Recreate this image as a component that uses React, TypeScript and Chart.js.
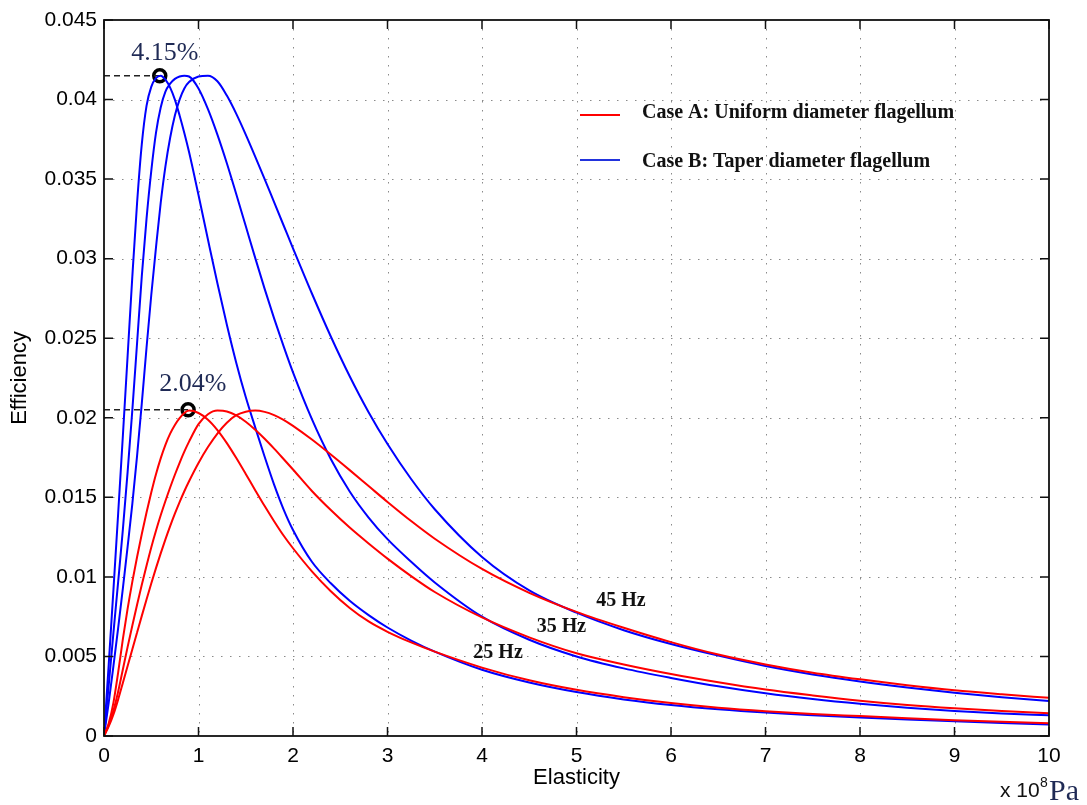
import { useEffect, useRef } from "react";
import { Chart, registerables } from "chart.js";

Chart.register(...registerables);

// Elasticity (x 10^8 Pa) sample positions shared by all curves
const elasticity = [
  0, 0.05, 0.1, 0.15, 0.2, 0.25, 0.3, 0.35, 0.4, 0.45, 0.5, 0.55, 0.6, 0.65, 0.7, 0.75, 0.8, 0.85, 0.9, 1.0,
  1.1, 1.2, 1.3, 1.4, 1.5, 1.6, 1.7, 1.8, 1.9, 2.0, 2.2, 2.4, 2.6, 2.8, 3.0, 3.25, 3.5, 4.0, 4.5, 5.0,
  5.5, 6.0, 6.5, 7.0, 7.5, 8.0, 8.5, 9.0, 9.5, 10,
];

// Case B: taper diameter flagellum (blue)
const taper25 = [
  0, 0.0045, 0.0092, 0.014, 0.0189, 0.0239, 0.0289, 0.0335, 0.0372, 0.0396, 0.0408, 0.04135, 0.0415, 0.04125, 0.04075, 0.04, 0.039, 0.0379, 0.0367, 0.034,
  0.0312, 0.02845, 0.02585, 0.02345, 0.0213, 0.0194, 0.01755, 0.0158, 0.01425, 0.01295, 0.01095, 0.0096, 0.0085, 0.0076, 0.00682, 0.006, 0.0053, 0.00416, 0.00336, 0.00276,
  0.0023, 0.00195, 0.00168, 0.00147, 0.00131, 0.00117, 0.00104, 0.00092, 0.00081, 0.00072,
];
const taper35 = [
  0, 0.0032, 0.0065, 0.0097, 0.013, 0.0166, 0.0205, 0.0247, 0.0289, 0.0325, 0.0355, 0.0379, 0.0395, 0.0405, 0.041, 0.0413, 0.04145, 0.0415, 0.04145, 0.0407,
  0.0394, 0.0378, 0.036, 0.03405, 0.03205, 0.03005, 0.0281, 0.02625, 0.0245, 0.02285, 0.01991, 0.01741, 0.01537, 0.01373, 0.01237, 0.01095, 0.00965, 0.0075, 0.00605, 0.005,
  0.00425, 0.00365, 0.00312, 0.00268, 0.00232, 0.00202, 0.00177, 0.00157, 0.00142, 0.0013,
];
const taper45 = [
  0, 0.0021, 0.0044, 0.0068, 0.0093, 0.0119, 0.0146, 0.0176, 0.0209, 0.0244, 0.0277, 0.0307, 0.0335, 0.0358, 0.0376, 0.039, 0.04, 0.0407, 0.0411, 0.04145,
  0.0415, 0.04115, 0.04025, 0.0391, 0.0378, 0.03642, 0.035, 0.03355, 0.0321, 0.03065, 0.02781, 0.02511, 0.02261, 0.02035, 0.01835, 0.01615, 0.01425, 0.01125, 0.00915, 0.00775,
  0.00665, 0.00578, 0.00505, 0.0044, 0.00387, 0.00343, 0.00305, 0.00272, 0.00244, 0.0022,
];

// Case A: uniform diameter flagellum (red)
const uniform25 = [
  0, 0.0008, 0.0021, 0.004, 0.0061, 0.008, 0.0097, 0.01125, 0.0127, 0.01405, 0.0153, 0.01645, 0.01745, 0.0183, 0.019, 0.01955, 0.01998, 0.0203, 0.02045, 0.0203,
  0.01988, 0.01923, 0.01841, 0.01747, 0.01647, 0.01545, 0.01445, 0.0135, 0.0126, 0.0118, 0.01035, 0.0091, 0.00805, 0.0072, 0.00655, 0.00588, 0.0053, 0.0043, 0.0035, 0.0029,
  0.00244, 0.00207, 0.00178, 0.00156, 0.00139, 0.00125, 0.00111, 0.00099, 0.00089, 0.0008,
];
const uniform35 = [
  0, 0.0007, 0.0016, 0.0028, 0.0042, 0.0056, 0.00695, 0.00825, 0.0095, 0.0107, 0.01185, 0.0129, 0.01387, 0.01477, 0.01562, 0.01642, 0.01717, 0.01787, 0.0185, 0.0196,
  0.02022, 0.02045, 0.0204, 0.02015, 0.01975, 0.01925, 0.01868, 0.01806, 0.01741, 0.01675, 0.0154, 0.0142, 0.0131, 0.0121, 0.01115, 0.01005, 0.00905, 0.00745, 0.0062, 0.0052,
  0.0045, 0.0039, 0.00338, 0.00292, 0.00255, 0.00222, 0.00195, 0.00174, 0.00157, 0.00143,
];
const uniform45 = [
  0, 0.0006, 0.00135, 0.0023, 0.00335, 0.0044, 0.00545, 0.0065, 0.00755, 0.00858, 0.00958, 0.01055, 0.01148, 0.01236, 0.01319, 0.01397, 0.0147, 0.01538, 0.01601, 0.01716,
  0.01816, 0.01901, 0.01969, 0.02016, 0.02038, 0.02045, 0.02037, 0.02017, 0.01987, 0.01949, 0.01863, 0.01769, 0.01671, 0.01571, 0.01471, 0.01351, 0.0124, 0.0105, 0.009, 0.0078,
  0.0068, 0.0059, 0.00512, 0.0045, 0.00398, 0.00356, 0.00319, 0.00287, 0.00262, 0.0024,
];

// Peak markers and their labels
const peakE = [0.59, 0.89];
const peakEff = [0.0415, 0.0205];
const peakLabels = ["4.15%", "2.04%"];
const peakLabelE = [0.645, 0.94];
const peakLabelEff = [0.0429, 0.0221];

// Frequency labels
const freqLabels = ["25 Hz", "35 Hz", "45 Hz"];
const freqLabelE = [4.17, 4.84, 5.47];
const freqLabelEff = [0.00525, 0.00688, 0.00848];

// Legend
const legendLabels = ["Case A: Uniform diameter flagellum", "Case B: Taper diameter flagellum"];
const legendColors = ["#ff0000", "#2233dd"];

// Axis ticks
const xTickValues = [0, 1, 2, 3, 4, 5, 6, 7, 8, 9, 10];
const yTickValues = [0, 0.005, 0.01, 0.015, 0.02, 0.025, 0.03, 0.035, 0.04, 0.045];

const SANS = "'Liberation Sans', Arial, Helvetica, sans-serif";
const SERIF = "'Liberation Serif', 'Times New Roman', serif";

const toPoints = (ys: number[]) => ys.map((y, i) => ({ x: elasticity[i], y }));

const decorPlugin = {
  id: "decor",
  beforeDatasetsDraw(chart: any) {
    const { ctx, chartArea: a, scales } = chart;
    const xs = scales.x;
    const ys = scales.y;
    ctx.save();
    ctx.strokeStyle = "#8a8a8a";
    ctx.lineWidth = 1;
    ctx.setLineDash([1.5, 7.5]);
    xTickValues.slice(1, -1).forEach((v) => {
      const px = Math.round(xs.getPixelForValue(v)) + 0.5;
      ctx.beginPath();
      ctx.moveTo(px, a.top);
      ctx.lineTo(px, a.bottom);
      ctx.stroke();
    });
    yTickValues.slice(1, -1).forEach((v) => {
      const py = Math.round(ys.getPixelForValue(v)) + 0.5;
      ctx.beginPath();
      ctx.moveTo(a.left, py);
      ctx.lineTo(a.right, py);
      ctx.stroke();
    });
    ctx.restore();
  },
  afterDatasetsDraw(chart: any) {
    const { ctx, chartArea: a, scales } = chart;
    const xs = scales.x;
    const ys = scales.y;
    ctx.save();
    // box
    ctx.setLineDash([]);
    ctx.strokeStyle = "#111";
    ctx.lineWidth = 1.8;
    ctx.strokeRect(a.left, a.top, a.right - a.left, a.bottom - a.top);
    // inward ticks
    const tl = 9;
    ctx.lineWidth = 1.5;
    xTickValues.forEach((v) => {
      const px = xs.getPixelForValue(v);
      ctx.beginPath();
      ctx.moveTo(px, a.bottom);
      ctx.lineTo(px, a.bottom - tl);
      ctx.moveTo(px, a.top);
      ctx.lineTo(px, a.top + tl);
      ctx.stroke();
    });
    yTickValues.forEach((v) => {
      const py = ys.getPixelForValue(v);
      ctx.beginPath();
      ctx.moveTo(a.left, py);
      ctx.lineTo(a.left + tl, py);
      ctx.moveTo(a.right, py);
      ctx.lineTo(a.right - tl, py);
      ctx.stroke();
    });

    // legend
    const lx = a.left + 476;
    const ly = [a.top + 95, a.top + 140];
    const ty = [a.top + 93, a.top + 142];
    legendLabels.forEach((t, i) => {
      ctx.strokeStyle = legendColors[i];
      ctx.lineWidth = 2;
      ctx.beginPath();
      ctx.moveTo(lx, ly[i]);
      ctx.lineTo(lx + 40, ly[i]);
      ctx.stroke();
      ctx.fillStyle = "#111";
      ctx.font = `bold 20px ${SERIF}`;
      ctx.textAlign = "left";
      ctx.textBaseline = "middle";
      ctx.fillText(t, lx + 62, ty[i]);
    });

    // frequency labels
    ctx.fillStyle = "#111";
    ctx.font = `bold 20px ${SERIF}`;
    ctx.textAlign = "center";
    ctx.textBaseline = "middle";
    freqLabels.forEach((t, i) => {
      ctx.fillText(t, xs.getPixelForValue(freqLabelE[i]), ys.getPixelForValue(freqLabelEff[i]));
    });

    // peak labels
    ctx.fillStyle = "#1f2a55";
    ctx.font = `26px ${SERIF}`;
    peakLabels.forEach((t, i) => {
      ctx.fillText(t, xs.getPixelForValue(peakLabelE[i]), ys.getPixelForValue(peakLabelEff[i]));
    });

    // unit label  x 10^8 Pa
    ctx.textAlign = "left";
    ctx.textBaseline = "alphabetic";
    ctx.fillStyle = "#111";
    ctx.font = `21px ${SANS}`;
    ctx.fillText("x 10", 1000, 797);
    ctx.font = `14px ${SANS}`;
    ctx.fillText("8", 1040, 787);
    ctx.fillStyle = "#1f2a55";
    ctx.font = `30px ${SERIF}`;
    ctx.fillText("Pa", 1049, 800);
    ctx.restore();
  },
};

export default function App() {
  const ref = useRef<HTMLCanvasElement | null>(null);
  useEffect(() => {
    if (!ref.current) return;
    const lineDs = (label: string, data: number[], color: string) => ({
      type: "line" as const,
      label,
      data: toPoints(data),
      borderColor: color,
      backgroundColor: color,
      borderWidth: 2,
      pointRadius: 0,
      fill: false,
      cubicInterpolationMode: "monotone" as const,
    });
    const chart = new Chart(ref.current, {
      type: "line",
      data: {
        datasets: [
          lineDs("Case A 25 Hz", uniform25, "#ff0000"),
          lineDs("Case A 35 Hz", uniform35, "#ff0000"),
          lineDs("Case A 45 Hz", uniform45, "#ff0000"),
          lineDs("Case B 25 Hz", taper25, "#0000ff"),
          lineDs("Case B 35 Hz", taper35, "#0000ff"),
          lineDs("Case B 45 Hz", taper45, "#0000ff"),
          ...peakE.map((e, i) => ({
            type: "line" as const,
            label: "guide " + i,
            data: [
              { x: 0, y: peakEff[i] },
              { x: e, y: peakEff[i] },
            ],
            borderColor: "#222",
            borderWidth: 1.4,
            borderDash: [6, 4],
            pointRadius: 0,
            fill: false,
          })),
          {
            type: "scatter" as const,
            label: "peaks",
            data: peakE.map((e, i) => ({ x: e, y: peakEff[i] })),
            pointRadius: 6,
            pointBorderWidth: 3.5,
            pointBorderColor: "#000",
            pointBackgroundColor: "#fff",
            showLine: false,
          },
        ],
      },
      options: {
        responsive: false,
        animation: false,
        devicePixelRatio: 1,
        layout: { padding: { top: 20, right: 38, left: 0, bottom: 0 } },
        plugins: { legend: { display: false }, tooltip: { enabled: false } },
        scales: {
          x: {
            type: "linear",
            min: 0,
            max: 10,
            afterFit: (s: any) => {
              s.height = 69;
            },
            afterBuildTicks: (s: any) => {
              s.ticks = xTickValues.map((v) => ({ value: v }));
            },
            grid: { display: false, drawTicks: false },
            border: { display: false },
            ticks: {
              padding: 8,
              color: "#000",
              font: { family: SANS, size: 21 },
              maxRotation: 0,
              callback: (v: any) => String(v),
            },
            title: {
              display: true,
              text: "Elasticity",
              color: "#000",
              font: { family: SANS, size: 22 },
              padding: { top: 0, bottom: 14 },
            },
          },
          y: {
            type: "linear",
            min: 0,
            max: 0.045,
            afterFit: (s: any) => {
              s.width = 104;
            },
            afterBuildTicks: (s: any) => {
              s.ticks = yTickValues.map((v) => ({ value: v }));
            },
            grid: { display: false, drawTicks: false },
            border: { display: false },
            ticks: {
              padding: 7,
              color: "#000",
              font: { family: SANS, size: 21 },
              callback: (v: any) => String(parseFloat(Number(v).toFixed(3))),
            },
            title: {
              display: true,
              text: "Efficiency",
              color: "#000",
              font: { family: SANS, size: 22 },
              padding: { top: 7, bottom: 0 },
            },
          },
        },
      },
      plugins: [decorPlugin],
    } as any);
    return () => chart.destroy();
  }, []);
  return (
    <canvas
      ref={ref}
      width={1087}
      height={805}
      style={{ position: "absolute", left: 0, top: 0, width: 1087, height: 805, background: "#fff" }}
    />
  );
}
